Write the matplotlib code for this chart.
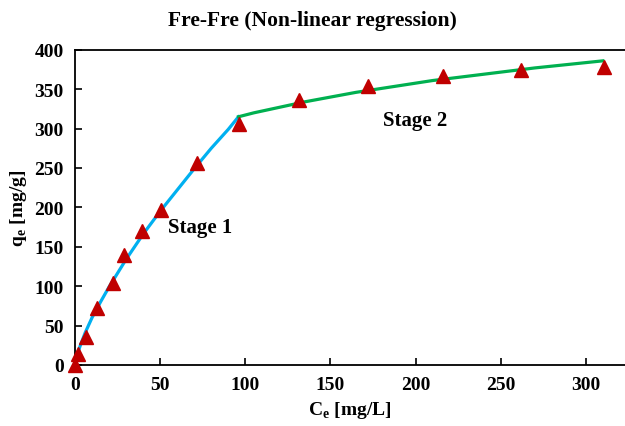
"""Fre-Fre two-stage non-linear regression of the isotherm data."""
import matplotlib
matplotlib.use("Agg")
import matplotlib.pyplot as plt

# measured points
ce = [0, 1.9, 6.5, 13.1, 22.5, 29.0, 39.5, 50.3, 71.6, 96.5, 131.7, 172.2, 215.9, 261.9, 310.6]
qe = [0, 14, 36, 72, 104, 140, 170, 197, 256, 306, 336, 354, 367, 375, 378]

# fitted curves
ce_s1 = [0, 1, 3, 6, 10, 15, 20, 30, 40, 50, 60, 70, 80, 90, 96]
qe_s1 = [0, 11, 24, 41, 60, 80, 99, 134, 166, 195, 222, 249, 275, 299, 315]
ce_s2 = [96, 105, 120, 135, 150, 165, 180, 210, 240, 270, 310]
qe_s2 = [315, 320, 327, 334, 340, 346, 351, 361, 369, 377, 386]

plt.rcParams["font.family"] = ["Liberation Serif", "DejaVu Serif"]
plt.rcParams["font.weight"] = "bold"

fig = plt.figure(figsize=(6.25, 4.27), dpi=100)
ax = fig.add_axes([0.12, 0.143, 0.88, 0.738])

ax.plot(ce_s1, qe_s1, color="#00B0F0", lw=2.3, zorder=2)
ax.plot(ce_s2, qe_s2, color="#00B050", lw=2.3, zorder=2)
ax.plot(ce, qe, ls="none", marker="^", ms=10.5, color="#C00000", zorder=3,
        clip_on=False)

ax.text(54.6, 175, "Stage 1", fontsize=15, fontweight="bold", va="center")
ax.text(181, 311, "Stage 2", fontsize=15, fontweight="bold", va="center")

ax.set_xlim(0, 323)
ax.set_ylim(0, 400)
ax.set_xticks([0, 50, 100, 150, 200, 250, 300])
ax.set_yticks(range(0, 401, 50))
ax.tick_params(direction="in", length=5, width=1.2, labelsize=14, pad=8)
for lbl in ax.get_xticklabels() + ax.get_yticklabels():
    lbl.set_fontweight("bold")
for s in ("left", "bottom", "top"):
    ax.spines[s].set_linewidth(1.3)
ax.spines["right"].set_visible(False)

ax.set_xlabel(r"C$_\mathregular{e}$ [mg/L]", fontsize=14, fontweight="bold", labelpad=4)
ax.set_ylabel(r"q$_\mathregular{e}$ [mg/g]", fontsize=14, fontweight="bold", labelpad=4)
fig.suptitle("Fre-Fre (Non-linear regression)", fontsize=15.5, fontweight="bold", y=0.975)

fig.savefig("out.png", dpi=100)
